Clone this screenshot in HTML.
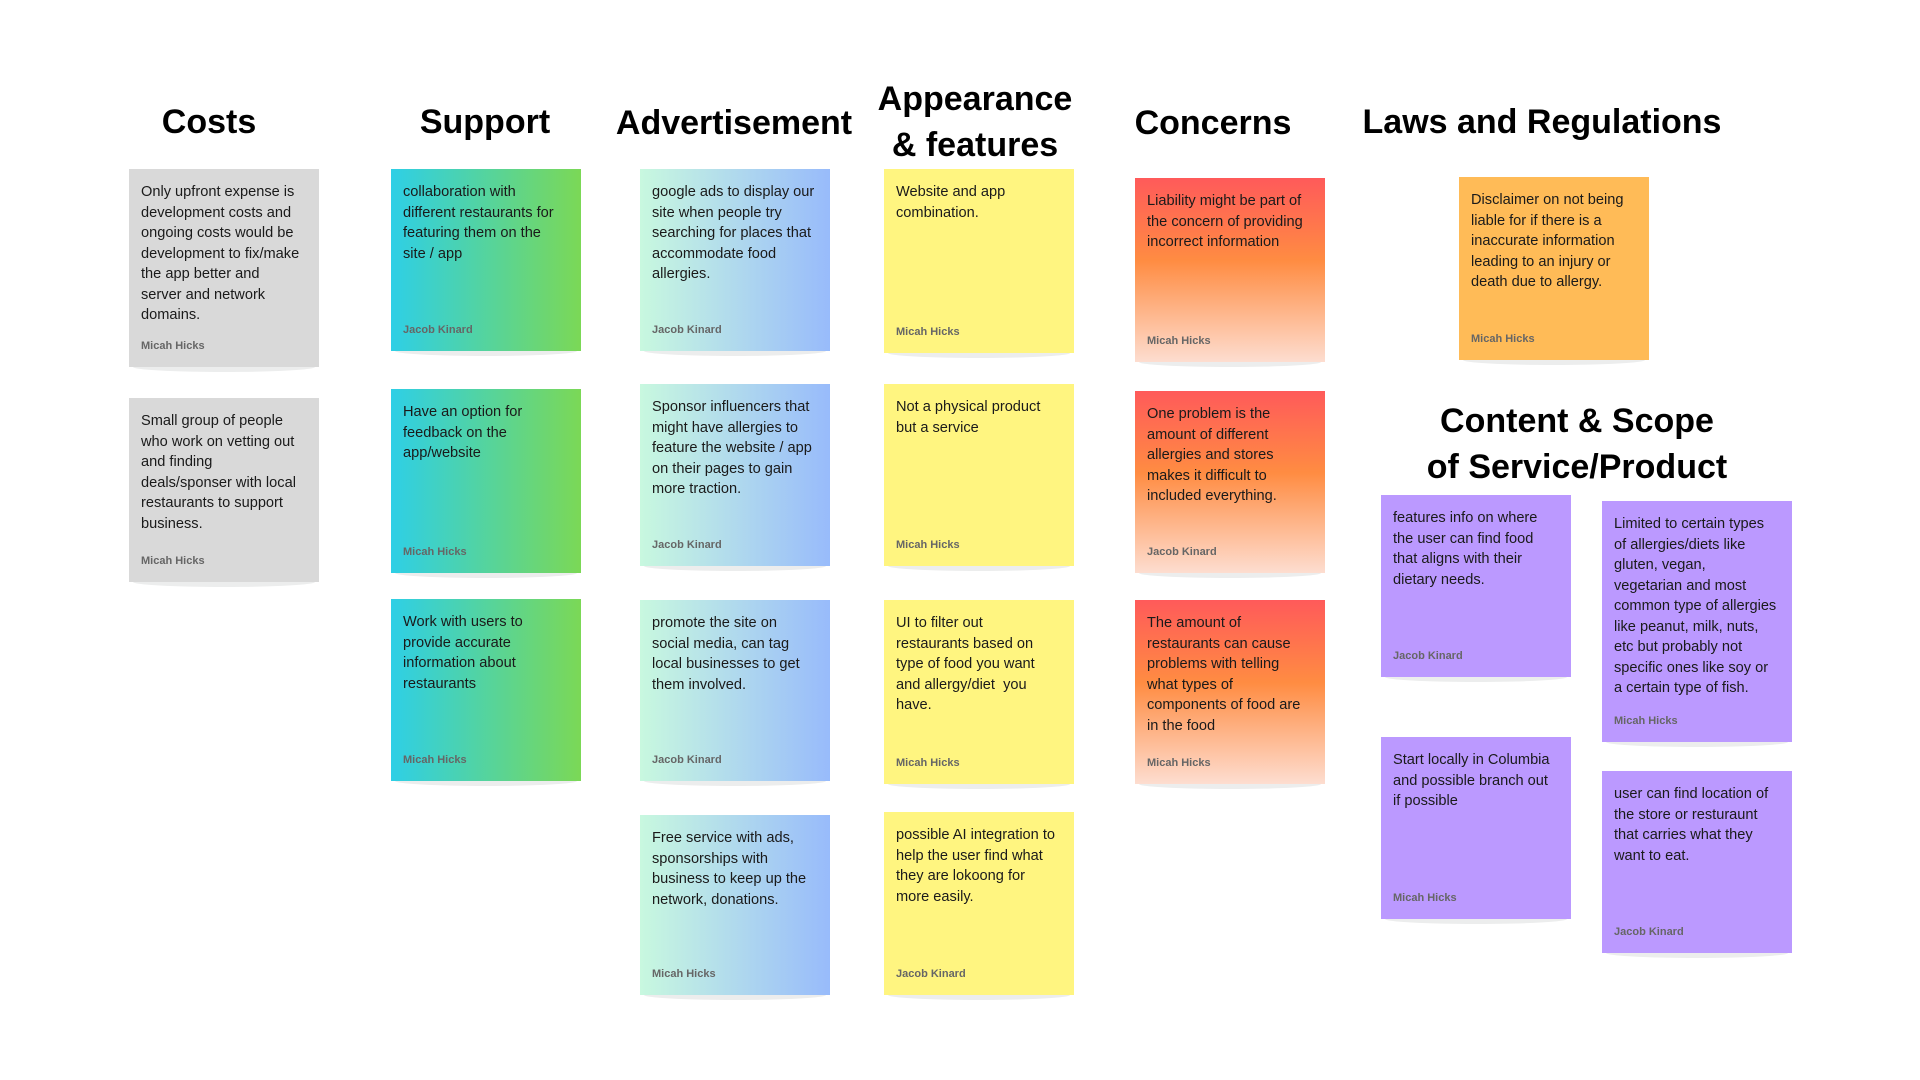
<!DOCTYPE html>
<html><head><meta charset="utf-8"><style>
body{margin:0;width:1920px;height:1080px;background:#fff;position:relative;overflow:hidden;font-family:"Liberation Sans",sans-serif}
.h{position:absolute;width:420px;margin-left:-210px;text-align:center;font-weight:bold;font-size:34px;color:#000;line-height:46px}
.n{position:absolute;width:190px;box-sizing:border-box;padding:13px 4px 13px 12px;font-size:14.6px;line-height:20.5px;color:#1a1a1a;white-space:nowrap}
.n:after{content:"";position:absolute;left:4px;right:4px;bottom:-5px;height:5px;background:#eceded;border-radius:0 0 50% 50%/0 0 100% 100%}
.a{position:absolute;left:12px;bottom:14px;font-size:11px;font-weight:bold;color:#666;line-height:14px}
.g{background:#d9d9d9}
.s{background:linear-gradient(to right,#2ecfe6,#7bd856)}
.v{background:linear-gradient(to right,#c8f8df,#98bbfb)}
.y{background:#fff580}
.c{background:linear-gradient(to bottom,#ff5a5a,#ff8c42 45%,#fdddd0)}
.o{background:#ffbb57}
.p{background:#bb99ff}
</style></head><body>
<div class="h" style="left:209px;top:99px">Costs</div>
<div class="h" style="left:485px;top:99px">Support</div>
<div class="h" style="left:734px;top:100px">Advertisement</div>
<div class="h" style="left:975px;top:76px">Appearance<br>&amp; features</div>
<div class="h" style="left:1213px;top:100px">Concerns</div>
<div class="h" style="left:1542px;top:99px">Laws and Regulations</div>
<div class="h" style="left:1577px;top:398px">Content &amp; Scope<br>of Service/Product</div>

<div class="n g" style="left:129px;top:169px;height:198px">Only upfront expense is<br>development costs and<br>ongoing costs would be<br>development to fix/make<br>the app better and<br>server and network<br>domains.<div class="a">Micah Hicks</div></div>
<div class="n g" style="left:129px;top:398px;height:184px">Small group of people<br>who work on vetting out<br>and finding<br>deals/sponser with local<br>restaurants to support<br>business.<div class="a">Micah Hicks</div></div>

<div class="n s" style="left:391px;top:169px;height:182px">collaboration with<br>different restaurants for<br>featuring them on the<br>site / app<div class="a">Jacob Kinard</div></div>
<div class="n s" style="left:391px;top:389px;height:184px">Have an option for<br>feedback on the<br>app/website<div class="a">Micah Hicks</div></div>
<div class="n s" style="left:391px;top:599px;height:182px">Work with users to<br>provide accurate<br>information about<br>restaurants<div class="a">Micah Hicks</div></div>

<div class="n v" style="left:640px;top:169px;height:182px">google ads to display our<br>site when people try<br>searching for places that<br>accommodate food<br>allergies.<div class="a">Jacob Kinard</div></div>
<div class="n v" style="left:640px;top:384px;height:182px">Sponsor influencers that<br>might have allergies to<br>feature the website / app<br>on their pages to gain<br>more traction.<div class="a">Jacob Kinard</div></div>
<div class="n v" style="left:640px;top:600px;height:181px">promote the site on<br>social media, can tag<br>local businesses to get<br>them involved.<div class="a">Jacob Kinard</div></div>
<div class="n v" style="left:640px;top:815px;height:180px">Free service with ads,<br>sponsorships with<br>business to keep up the<br>network, donations.<div class="a">Micah Hicks</div></div>

<div class="n y" style="left:884px;top:169px;height:184px">Website and app<br>combination.<div class="a">Micah Hicks</div></div>
<div class="n y" style="left:884px;top:384px;height:182px">Not a physical product<br>but a service<div class="a">Micah Hicks</div></div>
<div class="n y" style="left:884px;top:600px;height:184px">UI to filter out<br>restaurants based on<br>type of food you want<br>and allergy/diet &nbsp;you<br>have.<div class="a">Micah Hicks</div></div>
<div class="n y" style="left:884px;top:812px;height:183px">possible AI integration to<br>help the user find what<br>they are lokoong for<br>more easily.<div class="a">Jacob Kinard</div></div>

<div class="n c" style="left:1135px;top:178px;height:184px">Liability might be part of<br>the concern of providing<br>incorrect information<div class="a">Micah Hicks</div></div>
<div class="n c" style="left:1135px;top:391px;height:182px">One problem is the<br>amount of different<br>allergies and stores<br>makes it difficult to<br>included everything.<div class="a">Jacob Kinard</div></div>
<div class="n c" style="left:1135px;top:600px;height:184px">The amount of<br>restaurants can cause<br>problems with telling<br>what types of<br>components of food are<br>in the food<div class="a">Micah Hicks</div></div>

<div class="n o" style="left:1459px;top:177px;height:183px">Disclaimer on not being<br>liable for if there is a<br>inaccurate information<br>leading to an injury or<br>death due to allergy.<div class="a">Micah Hicks</div></div>

<div class="n p" style="left:1381px;top:495px;height:182px">features info on where<br>the user can find food<br>that aligns with their<br>dietary needs.<div class="a">Jacob Kinard</div></div>
<div class="n p" style="left:1381px;top:737px;height:182px">Start locally in Columbia<br>and possible branch out<br>if possible<div class="a">Micah Hicks</div></div>
<div class="n p" style="left:1602px;top:501px;height:241px">Limited to certain types<br>of allergies/diets like<br>gluten, vegan,<br>vegetarian and most<br>common type of allergies<br>like peanut, milk, nuts,<br>etc but probably not<br>specific ones like soy or<br>a certain type of fish.<div class="a">Micah Hicks</div></div>
<div class="n p" style="left:1602px;top:771px;height:182px">user can find location of<br>the store or resturaunt<br>that carries what they<br>want to eat.<div class="a">Jacob Kinard</div></div>
</body></html>
